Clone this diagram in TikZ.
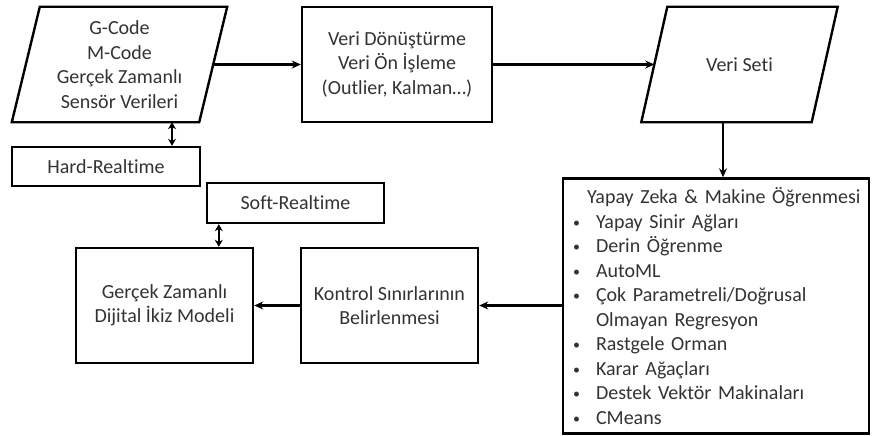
\documentclass[tikz,border=0pt]{standalone}
\usepackage{fontspec}
\setmainfont{Carlito}[Ligatures={NoCommon}]
\usetikzlibrary{arrows.meta}
\newcommand{\bitem}{\makebox[23pt][l]{\raisebox{1pt}{\fontsize{14}{14}\selectfont\textbullet}}}
\begin{document}
\begin{tikzpicture}[x=1pt,y=-1pt,
  every node/.style={font=\fontsize{20}{24.5}\selectfont, text=black!80},
  box/.style={draw=black, line width=2.4pt, align=center, inner sep=0pt},
  body/.style={align=center, inner sep=0pt},
  edge/.style={draw=black, line width=2.4pt, line join=miter},
  flow/.style={line width=2.4pt, -{Stealth[length=9pt,width=8pt]}},
  dbl/.style={line width=2.4pt, {Stealth[length=7pt,width=8pt]}-{Stealth[length=7pt,width=8pt]}}]

\fill[white] (0,0) rectangle (873,436);
\useasboundingbox (0,0) rectangle (873,436);

% top row: input data (slanted), preprocessing, data set (slanted)
\node[body, minimum width=187pt, minimum height=115pt] (in) at (119.5,64.5)
  {G-Code\\M-Code\\Gerçek Zamanlı\\Sensör Verileri};
\draw[edge] ([xshift=14pt]in.north west) -- ([xshift=14pt]in.north east)
  -- ([xshift=-14pt]in.south east) -- ([xshift=-14pt]in.south west) -- cycle;
\node[box, minimum width=190pt, minimum height=115pt] (dv) at (397,64.5)
  {Veri Dönüştürme\\Veri Ön İşleme\\(Outlier, Kalman…)};
\node[body, minimum width=170pt, minimum height=115pt] (vs) at (739.5,64.5)
  {Veri Seti};
\draw[edge] ([xshift=13pt]vs.north west) -- ([xshift=13pt]vs.north east)
  -- ([xshift=-13pt]vs.south east) -- ([xshift=-13pt]vs.south west) -- cycle;

% real-time boxes
\node[box, minimum width=188pt, minimum height=39pt] (hard) at (106,166.5) {Hard-Realtime};
\node[box, minimum width=177pt, minimum height=40pt] (soft) at (295.5,203) {Soft-Realtime};

% bottom row
\node[box, minimum width=177pt, minimum height=115pt] (twin) at (164.5,305.5)
  {Gerçek Zamanlı\\Dijital İkiz Modeli};
\node[box, minimum width=177pt, minimum height=115pt] (kon) at (389.5,305.5)
  {Kontrol Sınırlarının\\Belirlenmesi};
\node[box, minimum width=306pt, minimum height=255pt, text width=286pt,
      inner xsep=10pt, align=left] (ml) at (716,306)
  {\hspace*{14pt}\mbox{Yapay Zeka \& Makine Öğrenmesi}\\
   \bitem Yapay Sinir Ağları\\
   \bitem Derin Öğrenme\\
   \bitem AutoML\\
   \bitem Çok Parametreli/Doğrusal\\
   \hspace*{23pt}Olmayan Regresyon\\
   \bitem Rastgele Orman\\
   \bitem Karar Ağaçları\\
   \bitem Destek Vektör Makinaları\\
   \bitem CMeans};

% connectors
\draw[flow] (in.east) -- (dv.west);
\draw[flow] (dv.east) -- (vs.west);
\draw[flow] ([xshift=7pt]ml.north |- vs.south) -- ([xshift=7pt]ml.north);
\draw[flow] (ml.west |- kon.east) -- (kon.east);
\draw[flow] (kon.west) -- (twin.east);
\draw[dbl] ([xshift=66pt]hard.north) -- ([xshift=66pt]hard.north |- in.south);
\draw[dbl] ([xshift=13pt]soft.south west) -- ([xshift=13pt]soft.south west |- twin.north);
\end{tikzpicture}
\end{document}
